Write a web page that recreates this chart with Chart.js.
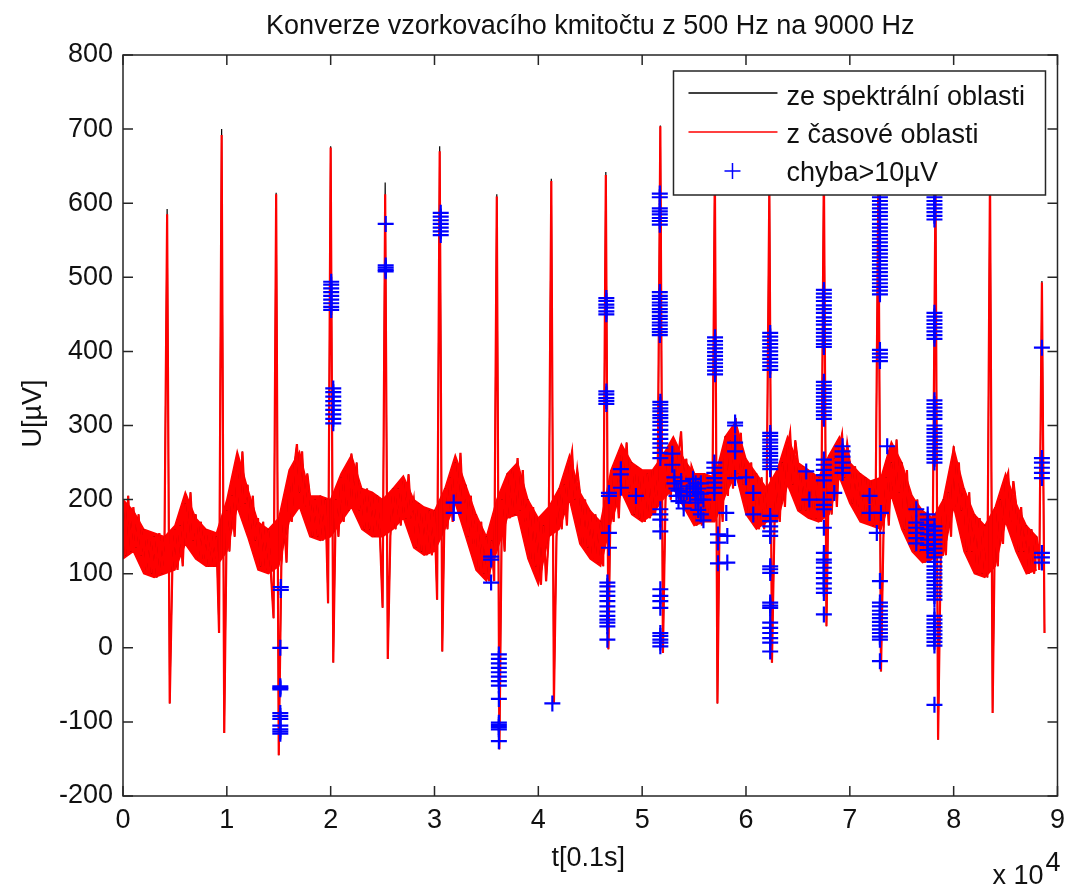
<!DOCTYPE html>
<html>
<head>
<meta charset="utf-8">
<title>Konverze vzorkovacího kmitočtu</title>
<script src="https://cdn.jsdelivr.net/npm/chart.js@4.4.1/dist/chart.umd.min.js"></script>
<style>
  html, body { margin: 0; padding: 0; background: #fff; }
  #wrap { width: 1073px; height: 891px; }
</style>
</head>
<body>
<div id="wrap"><canvas id="convChart" width="1073" height="891"></canvas></div>
<script>
// samples between stored points of the signal
const STEP = 250;
const BAND_STEP = 1000;
const X_EXP = 10000;

// signal from the time domain (red), one value every STEP samples, in µV
// (dense noise read as alternating upper / lower edge of the band)
const timeDomainU = [
  195, 125, 205, 130,  190, 135, 180, 125,   // 0
  160, 105, 155, 100,  150,  95, 155, 100,   // 2000
  150, 585, -75, 105,  160, 105, 165, 110,   // 4000
  195, 140, 210, 145,  180, 120, 170, 120,   // 6000
  160, 110, 155, 110,  150,  20, 692,-115,   // 8000
  185, 130, 205, 150,  240, 190, 265, 195,   // 10000
  220, 155, 205, 145,  175, 110, 170, 105,   // 12000
  160, 100,  40, 612, -145, 110, 175, 115,   // 14000
  225, 170, 245, 275,  210, 265, 190, 235,   // 16000
  205, 150, 200, 150,  205, 145, 200,  60,   // 18000
  675, -20, 200, 150,  230, 170, 240, 185,   // 20000
  262, 190, 250, 185,  215, 160, 215, 160,   // 22000
  210, 150, 205, 150,   54, 612, -15, 150,   // 24000
  215, 160, 215, 165,  225, 175, 234, 180,   // 26000
  200, 135, 195, 130,  190, 125, 185, 125,   // 28000
  185,  65, 670,  -5,  215, 160, 230, 170,   // 30000
  250, 195, 263, 190,  220, 150, 205, 140,   // 32000
  180, 105, 170, 100,  150,  90, 145,  90,   // 34000
  609,-137, 200, 130,  235, 175, 240, 180,   // 36000
  256, 185, 240, 170,  200, 120, 190, 110,   // 38000
  175,  85, 165,  90,  150, 630, -75, 150,   // 40000
  215, 160, 220, 165,  245, 265, 200, 240,   // 42000
  210, 140, 200, 135,  185, 120, 180, 115,   // 44000
  170, 110, 638,  -2,  240, 170, 235, 175,   // 46000
  260, 205, 277, 210,  250, 180, 245, 175,   // 48000
  240, 170, 235, 175,  240, 180, 230, 704,   // 50000
   -7, 200, 260, 200,  275, 215, 260, 292,   // 52000
  215, 255, 190, 245,  235, 165, 230, 165,   // 54000
  235, 170, 230, 170,  650, -75, 230, 170,   // 56000
  285, 205, 280, 215,  310, 235, 290, 220,   // 58000
  255, 180, 250, 175,  235, 160, 230, 160,   // 60000
  215, 625, -20, 170,  240, 170, 250, 190,   // 62000
  270, 290, 220, 280,  250, 185, 245, 185,   // 64000
  240, 175, 235, 175,  230, 170, 650,  29,   // 66000
  260, 180, 255, 190,  270, 288, 230, 275,   // 68000
  250, 195, 245, 190,  235, 170, 230, 170,   // 70000
  225, 165, 220, 630,  -32, 160, 230, 165,   // 72000
  250, 205, 281, 210,  250, 160, 240, 155,   // 74000
  205, 130, 200, 130,  185, 115, 180, 115,   // 76000
  175, 620,-124, 120,  200, 125, 210, 150,   // 78000
  272, 190, 250, 185,  215, 130, 210, 130,   // 80000
  180, 100, 175, 100,  165,  95, 640, -88,   // 82000
  190, 110, 200, 140,  225, 236, 170, 225,   // 84000
  195, 130, 190, 130,  165, 100, 160, 100,   // 86000
  150, 105, 493,  20                         // 88000
];

// upper and lower edge of the dense noise band, one value every BAND_STEP samples
const noiseTop = [
  200, 185, 160, 155, 150, 165, 210, 175, 160, 155,   // 0
  200, 265, 215, 170, 160, 175, 240, 265, 205, 205,   // 10000
  200, 235, 260, 215, 210, 200, 215, 232, 200, 190,   // 20000
  185, 215, 260, 220, 180, 150, 200, 235, 250, 200,   // 30000
  175, 190, 215, 260, 210, 185, 170, 240, 275, 250,   // 40000
  240, 240, 260, 285, 255, 235, 235, 230, 285, 305,   // 50000
  255, 235, 215, 240, 285, 250, 240, 230, 260, 285,   // 60000
  250, 235, 225, 230, 278, 250, 205, 185, 175, 200,   // 70000
  270, 215, 180, 165, 190, 235, 195, 165, 150         // 80000
];
const noiseBottom = [
  120, 130, 100,  95, 100, 105, 140, 120, 110, 110,   // 0
  130, 190, 150, 105, 100, 110, 170, 190, 150, 145,   // 10000
  150, 170, 190, 160, 150, 150, 160, 175, 135, 125,   // 20000
  130, 160, 195, 150, 105,  90, 130, 175, 180, 120,   // 30000
   85, 150, 160, 200, 140, 120, 110, 170, 210, 180,   // 40000
  170, 180, 200, 215, 190, 165, 170, 170, 205, 235,   // 50000
  180, 160, 170, 170, 220, 185, 175, 170, 180, 230,   // 60000
  195, 170, 165, 160, 205, 160, 130, 115, 120, 125,   // 70000
  190, 130, 100,  95, 110, 170, 130, 100, 105         // 80000
];

// spike tips where the spectral-domain signal (black) sticks out above the red one
const spectralTips = [
  [4250, 592], [9500, 700], [14750, 614], [20000, 677], [25250, 628], [30500, 677],
  [36000, 612], [41250, 633], [46500, 642], [51750, 705], [57000, 652], [62250, 627],
  [67500, 652], [72750, 632], [78250, 622], [83500, 642], [88500, 495]
];

// samples where the error is above 10 µV: [t, [U values]]
const errGroups = [
  [15200, [82, 78]],
  [15150, [0, -52, -56, -54, -88, -92, -96, -105, -110, -113, -116]],
  [20050, [494, 490, 485, 480, 475, 470, 465, 460, 456]],
  [20250, [350, 345, 339, 333, 327, 321, 315, 309, 303]],
  [25300, [572, 516, 513, 510, 508]],
  [30600, [587, 582, 577, 572, 567, 562, 557]],
  [31850, [196, 182]],
  [35450, [123, 119, 88]],
  [36200, [-9, -15, -21, -27, -33, -39, -45, -51, -69, -101, -104, -107, -110, -126]],
  [41350, [-75]],
  [46550, [472, 468, 463, 459, 454, 450, 346, 342, 337, 333, 329]],
  [46800, [209, 205, 155, 135]],
  [46650, [88, 83, 76, 70, 63, 56, 49, 43, 38, 34, 29, 11]],
  [47950, [241, 234, 216]],
  [49400, [205]],
  [51700, [613, 608, 593, 589, 585, 580, 576, 571, 480, 475, 471, 466, 462, 457, 453, 448, 444, 439, 435, 430, 426, 422]],
  [51750, [332, 328, 323, 319, 314, 310, 305, 300, 294, 288, 282, 276, 270, 263, 256, 187, 180, 173, 157, 79, 70, 63, 54, 20, 16, 11, 7, 2]],
  [52900, [262, 247]], [53100, [230, 222]], [53300, [215, 205]], [53500, [212, 198]],
  [53750, [225, 205]], [54000, [196, 188]], [54300, [210]], [54600, [218, 205]],
  [54900, [228, 215]], [55150, [222, 210, 196]], [55400, [215, 200, 186]],
  [55650, [222, 208, 180]], [55900, [200, 172]],
  [56950, [250, 243, 236, 229, 223, 216, 209]],
  [57020, [419, 414, 409, 404, 399, 394, 389, 384, 379, 374, 369]],
  [57300, [153, 142, 114]], [58100, [182]],
  [58950, [304, 300, 277, 265, 229]], [58200, [151, 115]],
  [60000, [230]], [60700, [209, 180]],
  [62330, [425, 420, 415, 410, 405, 400, 395, 390, 385, 380, 375, 290, 286, 281, 277, 272, 268, 263, 259, 254, 250, 245, 241,
           178, 171, 164, 157, 151, 110, 106, 101, 61, 57, 54, 34, 27, 20, 13, 7, -5]],
  [65800, [238]], [66100, [200]],
  [67500, [483, 478, 473, 468, 462, 457, 452, 446, 441, 436, 430, 425, 420, 415, 410, 406, 359, 354, 349, 344, 339, 334, 329,
           324, 319, 314, 309, 254, 247, 240, 233, 226, 200, 193, 187, 162, 128, 119, 115, 108, 101, 94, 87, 80, 74, 45]],
  [68500, [209]], [69300, [272, 265, 258, 250, 243, 236]],
  [71900, [205, 182]], [72600, [155]], [73000, [182]], [73600, [272]],
  [72900, [608, 603, 598, 593, 588, 583, 578, 572, 567, 562, 557, 552, 547, 542, 537, 532, 527, 522, 517, 512, 507, 502, 497,
           492, 487, 482, 477, 402, 397, 392, 387, 90, 61, 56, 50, 45, 40, 35, 30, 25, 20, 15, 11, -18]],
  [76400, [187, 169, 162, 155, 148, 141]],
  [77500, [180, 173, 166, 160, 153, 146, 139, 132]],
  [78150, [608, 603, 598, 593, 588, 583, 578, 452, 447, 442, 437, 432, 427, 422, 417, 334, 329, 324, 319, 314, 309, 300, 295,
           290, 285, 280, 275, 270, 265, 260, 255, 250, 164, 158, 152, 146, 140, 134, 128, 122, 116, 110, 105, 100, 95, 90, 85,
           80, 75, 70, 65, 43, 38, 33, 28, 23, 18, 13, 8, 3, -77]],
  [88500, [405, 256, 250, 243, 236, 229, 128, 122, 115]]
];

const xTicks = [0, 1, 2, 3, 4, 5, 6, 7, 8, 9];            // × 10^4
const yTicks = [-200, -100, 0, 100, 200, 300, 400, 500, 600, 700, 800];

const titleText = 'Konverze vzorkovacího kmitočtu z 500 Hz na 9000 Hz';
const xTitle = 't[0.1s]';
const yTitle = 'U[\u00b5V]';
const legendLabels = ['ze spektrální oblasti', 'z časové oblasti', 'chyba>10\u00b5V'];

const FONT = '"Liberation Sans", Arial, Helvetica, sans-serif';
const FONT_SIZE = 27;
const AXIS_COLOR = '#262626';

const redData = timeDomainU.map((u, i) => ({ x: i * STEP, y: u }));
const blackData = redData.map(p => ({ x: p.x, y: p.y }));
spectralTips.forEach(([t, u]) => {
  const p = blackData.find(d => d.x === t);
  if (p) p.y = u;
});
const topData = noiseTop.map((u, k) => ({ x: k * BAND_STEP, y: u }));
const bottomData = noiseBottom.map((u, k) => ({ x: k * BAND_STEP, y: u }));
const errData = [];
errGroups.forEach(([t, us]) => us.forEach(u => errData.push({ x: t, y: u })));

const TICK = 10;

const matlabFrame = {
  id: 'matlabFrame',
  afterDraw(chart) {
    const { ctx, chartArea: a, scales } = chart;
    const sx = scales.x, sy = scales.y;
    ctx.save();

    // axes box and inward ticks
    ctx.strokeStyle = AXIS_COLOR;
    ctx.lineWidth = 1.5;
    ctx.strokeRect(a.left, a.top, a.right - a.left, a.bottom - a.top);
    ctx.beginPath();
    xTicks.forEach(v => {
      const px = sx.getPixelForValue(v * X_EXP);
      ctx.moveTo(px, a.bottom); ctx.lineTo(px, a.bottom - TICK);
      ctx.moveTo(px, a.top); ctx.lineTo(px, a.top + TICK);
    });
    yTicks.forEach(v => {
      const py = sy.getPixelForValue(v);
      ctx.moveTo(a.left, py); ctx.lineTo(a.left + TICK, py);
      ctx.moveTo(a.right, py); ctx.lineTo(a.right - TICK, py);
    });
    ctx.stroke();

    ctx.fillStyle = '#111';
    ctx.font = FONT_SIZE + 'px ' + FONT;

    // title
    const cx = (a.left + a.right) / 2;
    ctx.textAlign = 'center';
    ctx.textBaseline = 'alphabetic';
    ctx.fillText(titleText, cx, a.top - 21);

    // x axis title and exponent
    ctx.fillText(xTitle, cx - 2, a.bottom + 70);
    ctx.textAlign = 'right';
    ctx.fillText('x 10', a.right - 14, a.bottom + 88);
    ctx.textAlign = 'left';
    ctx.fillText('4', a.right - 12, a.bottom + 75);

    // y axis title
    ctx.save();
    ctx.translate(41, (a.top + a.bottom) / 2 - 12);
    ctx.rotate(-Math.PI / 2);
    ctx.textAlign = 'center';
    ctx.fillText(yTitle, 0, 0);
    ctx.restore();

    // legend
    const lw = 372, lh = 124;
    const lx = a.right - 12 - lw, ly = a.top + 16;
    ctx.fillStyle = '#fff';
    ctx.fillRect(lx, ly, lw, lh);
    ctx.strokeStyle = AXIS_COLOR;
    ctx.lineWidth = 1.5;
    ctx.strokeRect(lx, ly, lw, lh);
    const ds = chart.data.datasets;
    const rows = [ds[2], ds[1], ds[0]];
    rows.forEach((d, i) => {
      const yMid = ly + 22 + i * 39;
      ctx.strokeStyle = d.borderColor;
      ctx.lineWidth = 1.5;
      ctx.beginPath();
      if (i < 2) {
        ctx.moveTo(lx + 15, yMid); ctx.lineTo(lx + 104, yMid);
      } else {
        ctx.moveTo(lx + 59 - 8, yMid); ctx.lineTo(lx + 59 + 8, yMid);
        ctx.moveTo(lx + 59, yMid - 8); ctx.lineTo(lx + 59, yMid + 8);
      }
      ctx.stroke();
      ctx.fillStyle = '#111';
      ctx.textAlign = 'left';
      ctx.fillText(legendLabels[i], lx + 113, ly + 34 + i * 38);
    });

    ctx.restore();
  }
};

const tickFont = { family: FONT, size: FONT_SIZE };

new Chart(document.getElementById('convChart').getContext('2d'), {
  type: 'line',
  data: {
    datasets: [
      {
        label: legendLabels[2], data: errData, showLine: false,
        pointStyle: 'cross', pointRadius: 8, pointBorderWidth: 2.2,
        pointBorderColor: '#0000ff', borderColor: '#0000ff', backgroundColor: '#0000ff', order: 0
      },
      {
        label: legendLabels[1], data: redData, borderColor: '#ff0000',
        borderWidth: 2.2, pointRadius: 0, tension: 0, order: 1
      },
      {
        label: legendLabels[0], data: blackData, borderColor: '#000000',
        borderWidth: 1.2, pointRadius: 0, tension: 0, order: 2
      },
      {
        label: 'band top', data: topData, borderColor: '#ff0000', backgroundColor: '#ff0000',
        borderWidth: 1.5, pointRadius: 0, tension: 0, fill: '+1', order: 3
      },
      {
        label: 'band bottom', data: bottomData, borderColor: '#ff0000',
        borderWidth: 1.5, pointRadius: 0, tension: 0, fill: false, order: 4
      }
    ]
  },
  options: {
    responsive: false,
    animation: false,
    devicePixelRatio: 1,
    events: [],
    layout: { padding: { top: 55, right: 11, left: 0, bottom: 0 } },
    plugins: {
      legend: { display: false },
      title: { display: false },
      tooltip: { enabled: false },
      filler: { propagate: false }
    },
    scales: {
      x: {
        type: 'linear', min: 0, max: 90000,
        afterFit: s => { s.height = 95; },
        grid: { display: false, drawTicks: false },
        border: { display: false },
        ticks: {
          stepSize: X_EXP, autoSkip: false, maxRotation: 0, padding: 8,
          color: '#111', font: tickFont,
          callback: v => String(v / X_EXP)
        }
      },
      y: {
        min: -200, max: 800,
        afterFit: s => { s.width = 123; },
        grid: { display: false, drawTicks: false },
        border: { display: false },
        ticks: { stepSize: 100, autoSkip: false, padding: 10, color: '#111', font: tickFont }
      }
    }
  },
  plugins: [matlabFrame]
});
</script>
</body>
</html>
